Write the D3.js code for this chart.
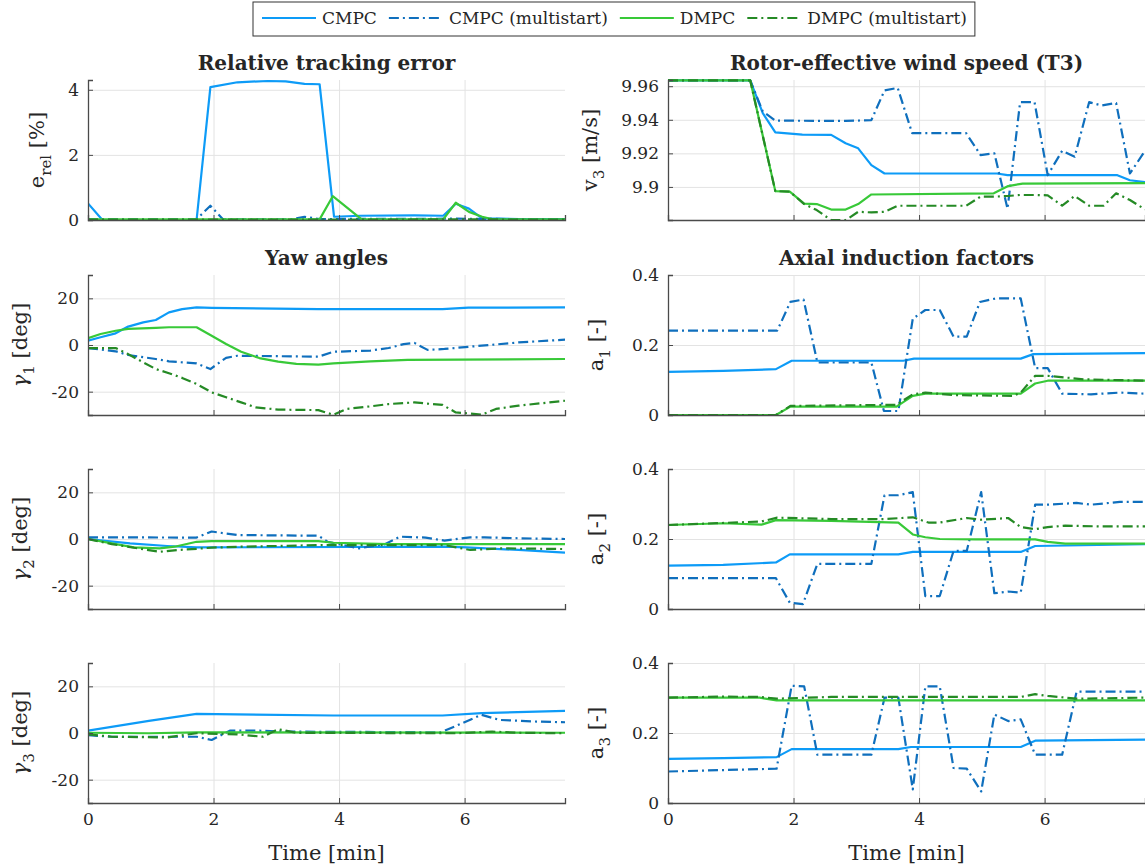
<!DOCTYPE html>
<html><head><meta charset="utf-8">
<script src="https://cdn.jsdelivr.net/npm/d3@7"></script>
<style>
body{margin:0;background:#fff}
svg{display:block}
text{font-family:"DejaVu Serif",serif;fill:#262626}
</style>
</head><body>
<svg id="c" width="1145" height="868"></svg>
<script>
// ---------- series / categories ----------
const seriesNames = ["CMPC", "CMPC (multistart)", "DMPC", "DMPC (multistart)"];
const seriesColors = ["#0d9bf7", "#0f6fbd", "#38c938", "#258a25"];
const xTicks = [0, 2, 4, 6];
const xTickLabels = ["0", "2", "4", "6"];
const xDomain = [0, 7.6];

// ---------- Relative tracking error [%] ----------
const errCMPC = [[0,0.51],[0.23,0],[1.73,0],[1.95,4.08],[2.38,4.23],[2.86,4.27],[3.15,4.26],[3.45,4.18],[3.69,4.17],[3.92,0.1],[4.33,0.13],[5.2,0.14],[5.66,0.13],[5.86,0.5],[6.07,0.35],[6.28,0.05],[6.87,0.03],[7.6,0.03]];
const errCMPCms = [[0,0.02],[1.73,0.02],[1.95,0.44],[2.15,0.02],[3.24,0.02],[3.45,0.1],[3.69,0.03],[5.86,0.04],[7.6,0.02]];
const errDMPC = [[0,0.02],[3.69,0.02],[3.9,0.73],[4.36,0.02],[5.66,0.02],[5.86,0.53],[6.07,0.25],[6.28,0.1],[6.45,0.02],[7.6,0.02]];
const errDMPCms = [[0,0.01],[3.9,0.01],[5.86,0.02],[7.6,0.01]];
const errTicks = [0, 2, 4];
const errTickLabels = ["0", "2", "4"];

// ---------- Rotor-effective wind speed T3 [m/s] ----------
const v3CMPC = [[0,9.9635],[1.31,9.9635],[1.51,9.944],[1.71,9.9325],[2.14,9.9312],[2.6,9.931],[2.83,9.926],[3.03,9.923],[3.24,9.913],[3.45,9.908],[5.24,9.908],[5.41,9.907],[7.16,9.907],[7.36,9.904],[7.6,9.9028]];
const v3CMPCms = [[0,9.9635],[1.31,9.9635],[1.51,9.945],[1.71,9.9395],[2.83,9.9393],[3.24,9.9398],[3.45,9.9575],[3.66,9.959],[3.89,9.932],[4.75,9.932],[4.98,9.919],[5.2,9.92],[5.41,9.887],[5.61,9.9505],[5.84,9.9505],[6.05,9.907],[6.28,9.9215],[6.48,9.918],[6.71,9.9505],[6.91,9.9485],[7.14,9.95],[7.36,9.908],[7.6,9.9215]];
const v3DMPC = [[0,9.9635],[1.31,9.9635],[1.71,9.8975],[1.94,9.8972],[2.17,9.890],[2.37,9.8898],[2.6,9.8865],[2.83,9.8865],[3.03,9.8898],[3.24,9.8955],[5.19,9.8962],[5.42,9.9005],[5.65,9.902],[7.6,9.9023]];
const v3DMPCms = [[0,9.9635],[1.31,9.9635],[1.71,9.8975],[1.94,9.8972],[2.17,9.8898],[2.37,9.8862],[2.6,9.8802],[2.83,9.8802],[3.03,9.8852],[3.24,9.8848],[3.45,9.8852],[3.66,9.8888],[4.75,9.8888],[4.98,9.8942],[5.2,9.8942],[5.41,9.8946],[5.61,9.8952],[5.84,9.8952],[6.05,9.895],[6.28,9.8888],[6.48,9.8946],[6.71,9.8888],[6.94,9.8888],[7.14,9.8962],[7.36,9.8922],[7.6,9.8866]];
const v3Ticks = [9.9, 9.92, 9.94, 9.96];
const v3TickLabels = ["9.9", "9.92", "9.94", "9.96"];

// ---------- Yaw angles [deg] ----------
const g1CMPC = [[0,1.9],[0.2,3.3],[0.44,5],[0.64,7.9],[0.88,9.7],[1.08,10.7],[1.29,14],[1.5,15.4],[1.73,16.1],[1.97,15.9],[3.67,15.4],[5.65,15.4],[6.06,16],[7.6,16.1]];
const g1CMPCms = [[0,-1.3],[0.44,-2.7],[0.64,-4.3],[1.08,-6],[1.29,-7],[1.73,-7.9],[1.95,-10.3],[2.2,-5.5],[2.38,-4.6],[3.67,-5],[3.91,-2.9],[4.5,-2.4],[4.79,-1.3],[5.03,0.4],[5.2,0.9],[5.41,-2.1],[5.68,-1.7],[6.09,-0.7],[6.27,-0.3],[6.86,1.1],[7.6,2.3]];
const g1DMPC = [[0,2.9],[0.2,4.7],[0.44,6.1],[0.64,6.9],[1.08,7.3],[1.29,7.6],[1.73,7.6],[1.97,4],[2.2,0.4],[2.44,-2.9],[2.73,-5.6],[3.03,-7.1],[3.32,-8.1],[3.67,-8.4],[3.91,-7.9],[4.5,-7],[5.09,-6.4],[7.6,-6]];
const g1DMPCms = [[0,-1.3],[0.44,-1.3],[0.64,-3.9],[0.85,-7],[1.08,-10.3],[1.29,-12.1],[1.5,-14.1],[1.73,-16.7],[1.97,-20.3],[2.2,-22.4],[2.44,-24.6],[2.67,-26.7],[3.03,-27.7],[3.67,-27.9],[3.91,-29.9],[4.12,-27.4],[4.5,-26.3],[4.79,-25.3],[5.2,-24.6],[5.65,-25.7],[5.86,-28.9],[6.06,-29.3],[6.27,-29.9],[6.5,-27.4],[6.86,-26],[7.6,-23.9]];

const g2CMPC = [[0,0],[0.67,-1.9],[1.26,-3],[1.73,-3.6],[5.68,-3.3],[6.03,-3.6],[6.86,-4.7],[7.6,-5.8]];
const g2CMPCms = [[0,0.7],[0.38,0.7],[1.73,0.6],[1.97,3.2],[2.38,1.7],[3.67,1.4],[3.82,-1.2],[4.32,-4],[4.73,-2.2],[4.97,1],[5.38,0.6],[5.68,-0.7],[6.09,0.7],[6.32,0.7],[6.86,0.3],[7.6,0]];
const g2DMPC = [[0,0],[0.38,-1.9],[0.73,-3.6],[1.14,-4],[1.38,-3.3],[1.73,-1.2],[1.97,-0.9],[3.67,-0.9],[3.91,-1.6],[4.79,-2.2],[7.6,-2.2]];
const g2DMPCms = [[0,0],[0.38,-2.2],[0.79,-4],[1.14,-5.5],[1.44,-4.7],[1.73,-4.2],[1.97,-3.7],[2.44,-3.3],[3.73,-2.6],[5.68,-2.6],[6.09,-4.7],[6.56,-4],[7.6,-4.3]];

const g3CMPC = [[0,1],[0.97,5.2],[1.73,8.2],[3.91,7.5],[5.65,7.5],[6.27,8.5],[7.6,9.5]];
const g3CMPCms = [[0,-0.9],[0.38,-1.6],[1.73,-1.6],[1.97,-3],[2.26,1],[2.73,1],[3.09,0.6],[5.62,0.3],[5.86,3],[6.27,7.8],[6.56,5.6],[7.15,4.9],[7.6,4.6]];
const g3DMPC = [[0,0.1],[0.97,-0.1],[1.73,0.3],[2.73,0.3],[7.6,0.1]];
const g3DMPCms = [[0,-0.6],[0.38,-1.6],[1.26,-1.9],[1.73,-0.1],[2.38,-0.6],[2.79,-1.6],[3.03,1.6],[3.32,0.1],[5.86,-0.1],[6.44,0.6],[6.86,0.1],[7.6,-0.1]];
const gTicks = [-20, 0, 20];
const gTickLabels = ["-20", "0", "20"];

// ---------- Axial induction factors [-] ----------
const a1CMPC = [[0,0.1234],[0.88,0.126],[1.72,0.131],[1.97,0.155],[3.75,0.155],[3.92,0.161],[5.62,0.161],[5.82,0.174],[7.6,0.177]];
const a1CMPCms = [[0,0.241],[1.74,0.241],[1.95,0.323],[2.16,0.33],[2.38,0.15],[3.24,0.15],[3.44,0.0115],[3.67,0.0115],[3.9,0.275],[4.1,0.3],[4.33,0.3],[4.55,0.224],[4.76,0.224],[4.97,0.323],[5.22,0.333],[5.62,0.333],[5.85,0.134],[6.05,0.134],[6.28,0.061],[6.74,0.059],[7.2,0.064],[7.6,0.061]];
const a1DMPC = [[0,0],[1.72,0],[1.95,0.024],[3.64,0.024],[3.9,0.0545],[4.1,0.061],[5.62,0.061],[5.85,0.09],[6.05,0.098],[7.6,0.098]];
const a1DMPCms = [[0,0],[1.72,0],[1.95,0.026],[3.64,0.029],[3.9,0.059],[4.1,0.064],[4.55,0.057],[5.5,0.0545],[5.62,0.064],[5.85,0.112],[6.05,0.112],[6.62,0.102],[7.6,0.098]];

const a2CMPC = [[0,0.124],[0.88,0.126],[1.72,0.133],[1.94,0.156],[3.67,0.156],[3.9,0.163],[5.62,0.163],[5.85,0.18],[7.6,0.185]];
const a2CMPCms = [[0,0.088],[1.72,0.088],[1.94,0.018],[2.15,0.014],[2.38,0.129],[3.24,0.129],[3.45,0.325],[3.67,0.325],[3.9,0.334],[4.1,0.037],[4.33,0.037],[4.55,0.166],[4.76,0.166],[4.99,0.334],[5.2,0.045],[5.42,0.05],[5.62,0.047],[5.85,0.298],[6.05,0.298],[6.51,0.303],[6.74,0.298],[7.2,0.306],[7.6,0.306]];
const a2DMPC = [[0,0.24],[0.88,0.245],[1.49,0.241],[1.72,0.254],[2.6,0.252],[3.67,0.247],[3.9,0.213],[4.1,0.205],[4.33,0.2],[4.9,0.199],[5.85,0.199],[6.05,0.192],[6.33,0.187],[7.6,0.187]];
const a2DMPCms = [[0,0.24],[1.49,0.25],[1.74,0.261],[2.6,0.257],[3.46,0.257],[3.9,0.262],[4.15,0.247],[4.33,0.247],[4.76,0.26],[4.99,0.255],[5.42,0.26],[5.62,0.234],[5.85,0.228],[6.05,0.234],[6.33,0.238],[6.91,0.236],[7.6,0.236]];

const a3CMPC = [[0,0.126],[0.88,0.128],[1.73,0.131],[1.97,0.154],[3.67,0.154],[3.87,0.16],[5.62,0.16],[5.85,0.178],[7.6,0.181]];
const a3CMPCms = [[0,0.09],[1.73,0.098],[1.97,0.335],[2.17,0.333],[2.38,0.138],[3.24,0.138],[3.45,0.301],[3.67,0.301],[3.9,0.039],[4.1,0.333],[4.33,0.333],[4.55,0.1],[4.76,0.098],[4.99,0.033],[5.2,0.253],[5.42,0.234],[5.62,0.239],[5.85,0.138],[6.28,0.138],[6.51,0.318],[7.6,0.318]];
const a3DMPC = [[0,0.301],[1.46,0.301],[1.73,0.293],[7.6,0.293]];
const a3DMPCms = [[0,0.301],[0.88,0.304],[1.46,0.303],[1.73,0.298],[2.6,0.303],[5.62,0.303],[5.85,0.311],[6.05,0.306],[6.51,0.298],[7.6,0.301]];
const aTicks = [0, 0.2, 0.4];
const aTickLabels = ["0", "0.2", "0.4"];

// ---------- panels (built from the arrays above) ----------
const panels = [
  {col:0,row:0,title:"Relative tracking error",lab:["e","rel"," [%]"],lx:-44,data:[errCMPC,errCMPCms,errDMPC,errDMPCms],y:[0,4.3],ticks:errTicks,tlabels:errTickLabels},
  {col:1,row:0,title:"Rotor-effective wind speed (T3)",lab:["v","3"," [m/s]"],lx:-71,data:[v3CMPC,v3CMPCms,v3DMPC,v3DMPCms],y:[9.8803,9.9637],ticks:v3Ticks,tlabels:v3TickLabels},
  {col:0,row:1,title:"Yaw angles",lab:["γ","1"," [deg]"],lx:-61,data:[g1CMPC,g1CMPCms,g1DMPC,g1DMPCms],y:[-30,30],ticks:gTicks,tlabels:gTickLabels},
  {col:1,row:1,title:"Axial induction factors",lab:["a","1"," [-]"],lx:-65,data:[a1CMPC,a1CMPCms,a1DMPC,a1DMPCms],y:[0,0.4],ticks:aTicks,tlabels:aTickLabels},
  {col:0,row:2,lab:["γ","2"," [deg]"],lx:-61,data:[g2CMPC,g2CMPCms,g2DMPC,g2DMPCms],y:[-30,30],ticks:gTicks,tlabels:gTickLabels},
  {col:1,row:2,lab:["a","2"," [-]"],lx:-65,data:[a2CMPC,a2CMPCms,a2DMPC,a2DMPCms],y:[0,0.4],ticks:aTicks,tlabels:aTickLabels},
  {col:0,row:3,lab:["γ","3"," [deg]"],lx:-61,data:[g3CMPC,g3CMPCms,g3DMPC,g3DMPCms],y:[-30,30],ticks:gTicks,tlabels:gTickLabels,xlab:true},
  {col:1,row:3,lab:["a","3"," [-]"],lx:-65,data:[a3CMPC,a3CMPCms,a3DMPC,a3DMPCms],y:[0,0.4],ticks:aTicks,tlabels:aTickLabels,xlab:true}
];

// ---------- layout ----------
const colX = [88, 668];
const rowY = [80, 275, 469, 663];
const W = 477, H = 140;
const dashes = [null, "10,4,2,4", null, "10,4,2,4"];
const axisCol = "#4a4a4a", gridCol = "#e3e3e3";

const svg = d3.select("#c");

panels.forEach((p, i) => {
  const g = svg.append("g").attr("transform", `translate(${colX[p.col]},${rowY[p.row]})`);
  const x = d3.scaleLinear().domain(xDomain).range([0, W]);
  const y = d3.scaleLinear().domain(p.y).range([H, 0]);

  // grid
  g.append("g").attr("transform", `translate(0,${H})`)
    .call(d3.axisBottom(x).tickValues(xTicks.filter(v => v > 0)).tickSize(-H).tickFormat(""))
    .call(s => { s.select(".domain").remove(); s.selectAll("line").attr("stroke", gridCol); });
  g.append("g")
    .call(d3.axisLeft(y).tickValues(p.ticks).tickSize(-W).tickFormat(""))
    .call(s => { s.select(".domain").remove(); s.selectAll("line").attr("stroke", gridCol); });

  // clip
  const cid = "clip" + i;
  g.append("clipPath").attr("id", cid).append("rect").attr("x", 0).attr("y", -1).attr("width", W).attr("height", H + 2);

  const line = d3.line().x(d => x(d[0])).y(d => y(d[1]));
  const lg = g.append("g").attr("clip-path", `url(#${cid})`);
  p.data.forEach((d, k) => {
    lg.append("path").datum(d).attr("d", line)
      .attr("fill", "none").attr("stroke", seriesColors[k]).attr("stroke-width", 2.2)
      .attr("stroke-linejoin", "round")
      .attr("stroke-dasharray", dashes[k]);
  });

  // axes
  const xa = g.append("g").attr("transform", `translate(0,${H})`)
    .call(d3.axisBottom(x).tickValues(xTicks).tickSize(-5).tickPadding(10)
      .tickFormat((v, j) => p.xlab ? xTickLabels[j] : ""));
  const ya = g.append("g")
    .call(d3.axisLeft(y).tickValues(p.ticks).tickSize(-5).tickPadding(9)
      .tickFormat((v, j) => p.tlabels[j]));
  [xa, ya].forEach(a => {
    a.select(".domain").attr("stroke", axisCol).attr("stroke-width", 1.3);
    a.selectAll(".tick line").attr("stroke", axisCol);
    a.selectAll(".tick text").attr("fill", "#262626").style("font-family", '"DejaVu Serif",serif').style("font-size", "17px");
  });

  // title
  if (p.title) {
    g.append("text").attr("x", W / 2).attr("y", -10).attr("text-anchor", "middle")
      .style("font-weight", "bold").style("font-size", "20px").attr("fill", "#000").text(p.title);
  }
  // y label
  const yl = g.append("text").attr("transform", `translate(${p.lx},${H / 2}) rotate(-90)`)
    .attr("text-anchor", "middle").style("font-size", "21px");
  yl.append("tspan").text(p.lab[0]).style("font-style", p.lab[0] === "γ" ? "italic" : "normal");
  yl.append("tspan").attr("dy", 7).style("font-size", "15px").text(p.lab[1]);
  yl.append("tspan").attr("dy", -7).text(p.lab[2]);

  if (p.xlab) {
    g.append("text").attr("x", W / 2).attr("y", H + 57).attr("text-anchor", "middle")
      .style("font-size", "21px").text("Time [min]");
  }
});

// ---------- legend ----------
const leg = svg.append("g");
const legRect = leg.append("rect").attr("x", 253).attr("y", 2).attr("height", 34)
  .attr("fill", "#fff").attr("stroke", "#333").attr("stroke-width", 1);
let lxp = 262;
seriesNames.forEach((n, k) => {
  leg.append("line").attr("x1", lxp).attr("x2", lxp + 54).attr("y1", 18).attr("y2", 18)
    .attr("stroke", seriesColors[k]).attr("stroke-width", 2.2).attr("stroke-dasharray", dashes[k]);
  const t = leg.append("text").attr("x", lxp + 60).attr("y", 24).style("font-size", "17px").text(n);
  lxp = lxp + 60 + t.node().getComputedTextLength() + 12;
});
legRect.attr("width", lxp - 253 - 4);
</script>
</body></html>
